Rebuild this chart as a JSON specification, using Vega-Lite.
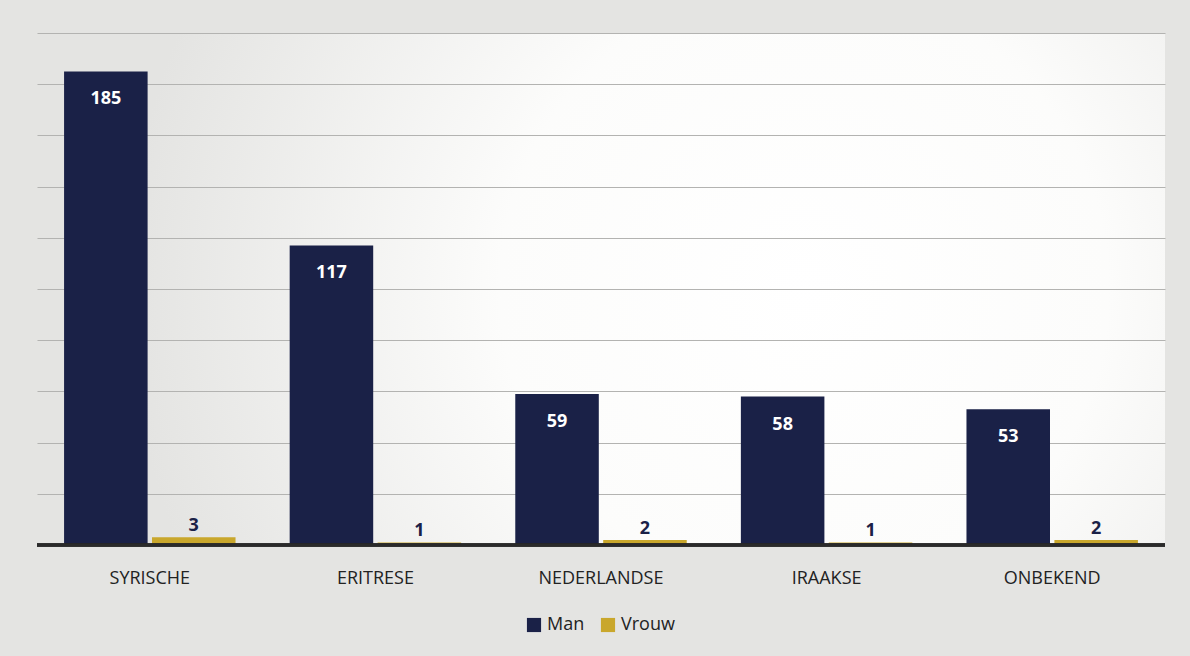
{
  "$schema": "https://vega.github.io/schema/vega-lite/v6.json",
  "width": 1128,
  "height": 512,
  "autosize": {"type": "none"},
  "padding": {"left": 37, "top": 33, "right": 25, "bottom": 111},
  "background": "#e4e4e2",
  "config": {
    "view": {"stroke": null, "fill": {"gradient": "radial", "x1": 0.68, "y1": 0.5, "x2": 0.68, "y2": 0.5, "r1": 0, "r2": 0.6, "stops": [{"offset": 0, "color": "#ffffff"}, {"offset": 0.45, "color": "#fcfcfb"}, {"offset": 1, "color": "#e4e4e2"}]}},
    "font": "Open Sans"
  },
  "data": {
    "values": [
      {"nationaliteit": "SYRISCHE", "geslacht": "Man", "aantal": 185},
      {"nationaliteit": "SYRISCHE", "geslacht": "Vrouw", "aantal": 3},
      {"nationaliteit": "ERITRESE", "geslacht": "Man", "aantal": 117},
      {"nationaliteit": "ERITRESE", "geslacht": "Vrouw", "aantal": 1},
      {"nationaliteit": "NEDERLANDSE", "geslacht": "Man", "aantal": 59},
      {"nationaliteit": "NEDERLANDSE", "geslacht": "Vrouw", "aantal": 2},
      {"nationaliteit": "IRAAKSE", "geslacht": "Man", "aantal": 58},
      {"nationaliteit": "IRAAKSE", "geslacht": "Vrouw", "aantal": 1},
      {"nationaliteit": "ONBEKEND", "geslacht": "Man", "aantal": 53},
      {"nationaliteit": "ONBEKEND", "geslacht": "Vrouw", "aantal": 2}
    ]
  },
  "encoding": {
    "x": {
      "field": "nationaliteit",
      "type": "nominal",
      "sort": null,
      "scale": {"paddingInner": 0.24, "paddingOuter": 0.12},
      "axis": {
        "title": null,
        "labelAngle": 0,
        "labelFontSize": 18,
        "labelColor": "#222222",
        "labelPadding": 24,
        "ticks": false,
        "domain": false
      }
    },
    "xOffset": {
      "field": "geslacht",
      "type": "nominal",
      "scale": {"paddingInner": 0.05}
    },
    "y": {
      "field": "aantal",
      "type": "quantitative",
      "scale": {"domain": [0, 200], "nice": false},
      "axis": {
        "title": null,
        "labels": false,
        "ticks": false,
        "domain": false,
        "values": [20, 40, 60, 80, 100, 120, 140, 160, 180, 200],
        "gridColor": "#b3b3b1",
        "gridWidth": 1
      }
    }
  },
  "layer": [
    {
      "mark": {"type": "bar"},
      "encoding": {
        "color": {
          "field": "geslacht",
          "type": "nominal",
          "scale": {"domain": ["Man", "Vrouw"], "range": ["#1a2147", "#c9a72c"]},
          "legend": {
            "title": null,
            "orient": "none",
            "legendX": 488,
            "legendY": 583,
            "direction": "horizontal",
            "symbolType": "square",
            "symbolSize": 200,
            "symbolStrokeWidth": 0,
            "labelFontSize": 18,
            "labelColor": "#222222",
            "columnPadding": 14
          }
        }
      }
    },
    {
      "mark": {"type": "rule", "color": "#2a2a2a", "strokeWidth": 2.5},
      "encoding": {"x": null, "xOffset": null, "y": {"datum": 0, "type": "quantitative"}}
    },
    {
      "transform": [{"filter": "datum.geslacht === 'Man'"}],
      "mark": {"type": "text", "baseline": "middle", "dy": 28, "fontWeight": "bold", "fontSize": 18, "color": "#ffffff"},
      "encoding": {"text": {"field": "aantal", "type": "quantitative"}}
    },
    {
      "transform": [{"filter": "datum.geslacht === 'Vrouw'"}],
      "mark": {"type": "text", "baseline": "bottom", "dy": -2, "fontWeight": "bold", "fontSize": 18, "color": "#1a2147"},
      "encoding": {"text": {"field": "aantal", "type": "quantitative"}}
    }
  ]
}
